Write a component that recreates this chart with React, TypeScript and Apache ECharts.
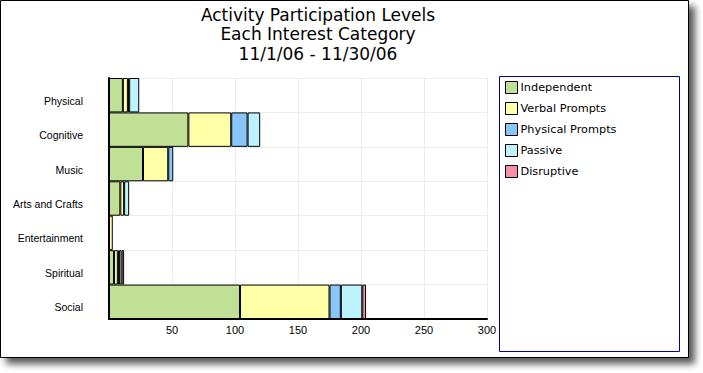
import React, { useEffect, useRef } from "react";
import * as echarts from "echarts";

const categories = ["Physical", "Cognitive", "Music", "Arts and Crafts", "Entertainment", "Spiritual", "Social"];
const independent = [11, 63, 27, 9, 0, 4, 104];
const verbalPrompts = [4, 34, 20, 3, 3, 3, 71];
const physicalPrompts = [1, 13, 4, 0, 0, 1, 9];
const passive = [8, 10, 0, 4, 0, 2, 17];
const disruptive = [0, 0, 0, 0, 0, 2, 3];
const seriesNames = ["Independent", "Verbal Prompts", "Physical Prompts", "Passive", "Disruptive"];
const seriesColors = ["#C0E095", "#FFFFA8", "#88C6FA", "#BDF2FF", "#F590A8"];
const titleLines = ["Activity Participation Levels", "Each Interest Category", "11/1/06 - 11/30/06"];

export default function App() {
  const ref = useRef<HTMLDivElement>(null);
  useEffect(() => {
    if (!ref.current) return;
    const chart = echarts.init(ref.current, null, { renderer: "svg" });
    const data = [independent, verbalPrompts, physicalPrompts, passive, disruptive];
    chart.setOption({
      animation: false,
      backgroundColor: "#ffffff",
      title: {
        text: titleLines.join("\n"),
        left: 313,
        textAlign: "center",
        top: 0,
        textStyle: {
          fontFamily: "DejaVu Sans",
          fontSize: 17,
          fontWeight: "normal",
          color: "#000",
          lineHeight: 19.5,
        },
      },
      graphic: [
        {
          type: "rect",
          z: -10,
          shape: { x: 0.5, y: 0.5, width: 688, height: 357 },
          style: {
            fill: "#fff",
            stroke: "#000",
            lineWidth: 1,
            shadowBlur: 7,
            shadowOffsetX: 6,
            shadowOffsetY: 6,
            shadowColor: "rgba(0,0,0,0.65)",
          },
        },
        {
          type: "rect",
          z: 1,
          shape: { x: 499.5, y: 76.5, width: 180, height: 275 },
          style: { fill: "none", stroke: "#0000A0", lineWidth: 1 },
        },
      ],
      legend: {
        orient: "vertical",
        left: 500,
        top: 76,
        itemWidth: 12,
        itemHeight: 12,
        itemGap: 8,
        icon: "rect",
        data: seriesNames,
        itemStyle: { borderColor: "#000", borderWidth: 1 },
        textStyle: { fontFamily: "DejaVu Sans", fontSize: 11.3, color: "#000", padding: [0, 0, 0, -2] },
      },
      grid: { left: 109, top: 78, right: 216, bottom: 54, containLabel: false },
      xAxis: {
        type: "value",
        min: 0,
        max: 300,
        interval: 50,
        axisLine: { show: true, lineStyle: { color: "#000", width: 2 } },
        axisTick: { show: false },
        axisLabel: {
          showMinLabel: false,
          fontFamily: "Liberation Sans",
          fontSize: 11,
          color: "#000",
          margin: 5,
        },
        splitLine: { show: true, lineStyle: { color: "#ececec", width: 1 } },
      },
      yAxis: {
        type: "category",
        data: categories,
        inverse: true,
        axisLine: { show: true, lineStyle: { color: "#000", width: 2 } },
        axisTick: { show: false },
        axisLabel: {
          fontFamily: "Liberation Sans",
          fontSize: 10.5,
          color: "#000",
          margin: 26,
          verticalAlign: "top",
        },
        splitLine: { show: true, lineStyle: { color: "#ececec", width: 1 } },
      },
      series: seriesNames.map((name, i) => ({
        name,
        type: "bar",
        stack: "total",
        barCategoryGap: 0,
        barWidth: "100%",
        data: data[i].map((v) => (v === 0 ? null : v)),
        itemStyle: { color: seriesColors[i], borderColor: "#000", borderWidth: 1 },
      })),
    });
    return () => chart.dispose();
  }, []);
  return <div ref={ref} style={{ position: "fixed", left: 0, top: 0, width: 703, height: 373 }} />;
}
